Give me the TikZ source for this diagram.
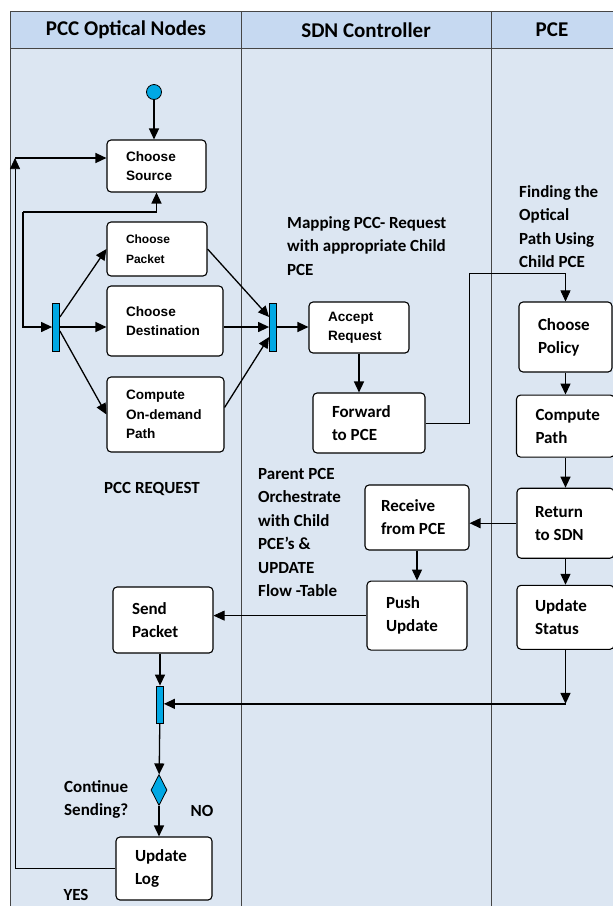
\documentclass[tikz,border=0pt]{standalone}
\usepackage{fontspec}
\setmainfont{Carlito}
\newfontfamily\arialfont{Liberation Sans}
\usetikzlibrary{arrows.meta, shapes.geometric, positioning}

\definecolor{headblue}{RGB}{198,217,241}
\definecolor{laneblue}{RGB}{220,230,242}
\definecolor{barblue}{RGB}{0,168,228}
\definecolor{laneline}{RGB}{70,70,70}

\tikzset{
  >={Triangle[length=11pt,width=10pt]},
  actbox/.style={draw, rounded corners=4pt, fill=white, line width=1.1pt, align=flush left, inner xsep=19pt, inner ysep=0pt},
  arialtxt/.style={font=\arialfont\bfseries\fontsize{13.6}{19.5}\selectfont},
  arialsmall/.style={font=\arialfont\bfseries\fontsize{12}{19.5}\selectfont},
  calitxt/.style={font=\bfseries\fontsize{17}{23}\selectfont},
  note/.style={align=flush left, anchor=north west, inner sep=0pt, font=\bfseries\fontsize{17}{23.5}\selectfont},
  lanehead/.style={font=\bfseries\fontsize{21}{24}\selectfont},
  syncbar/.style={draw, fill=barblue, line width=0.8pt, minimum width=7pt, inner sep=0pt},
  flow/.style={->, line width=1.3pt},
  thinflow/.style={->, line width=0.7pt}
}

\begin{document}
\begin{tikzpicture}[x=1pt, y=-1pt]

        \useasboundingbox (0,0) rectangle (613,906);

        % Swim lanes
        \fill[headblue] (10,11) rectangle (613,48);
        \fill[laneblue] (10,48) rectangle (613,906);
        \draw[laneline] (10,906) -- (10,11) -- (613,11);
        \draw[laneline] (10,48) -- (613,48);
        \draw[laneline] (241,11) -- (241,906);
        \draw[laneline] (491,11) -- (491,906);
        \node[lanehead] (hpcc) at (126,30) {PCC Optical Nodes};
        \node[lanehead] (hsdn) at (366,30) {SDN Controller};
        \node[lanehead] (hpce) at (552,30) {PCE};

        % PCC request
        \node[circle, draw, fill=barblue, line width=0.8pt, minimum size=15pt, inner sep=0pt] (start) at (154,92) {};
        \node[actbox, arialtxt, text width=61pt, minimum height=52pt] (source) at (156.5,166) {Choose\\Source};
        \node[actbox, arialsmall, text width=62pt, minimum height=54pt] (packet) at (157,249) {Choose\\Packet};
        \node[actbox, arialtxt, text width=78pt, minimum height=70pt] (dest) at (165,321) {Choose\\Destination};
        \node[actbox, arialtxt, text width=79pt, minimum height=75pt] (ondemand) at (165.5,414.5) {Compute\\On-demand\\Path};
        \node[syncbar, minimum height=48pt] (fork) at (56,327) {};
        \node[syncbar, minimum height=48pt] (join) at (273,327) {};
        \node[calitxt] (pccreq) at (152,489) {PCC REQUEST};

        % SDN controller
        \node[note] (mapnote) at (287,216) {Mapping PCC- Request\\with appropriate Child\\PCE};
        \node[actbox, arialtxt, text width=62pt, minimum height=51pt] (accept) at (359,327.5) {Accept\\Request};
        \node[actbox, calitxt, text width=74pt, minimum height=60pt] (forward) at (369,423) {Forward\\to PCE};

        % PCE
        \node[note] (findnote) at (519,185) {Finding the\\Optical\\Path Using\\Child PCE};
        \node[actbox, calitxt, text width=55pt, minimum height=70pt] (policy) at (565.5,337) {Choose\\Policy};
        \node[actbox, calitxt, text width=60pt, minimum height=62pt, below=22pt of policy] (computepath) {Compute\\Path};
        \node[actbox, calitxt, text width=61pt, inner xsep=18pt, minimum height=70pt, below=30pt of computepath] (ret) {Return\\to SDN};
        \node[actbox, calitxt, text width=61pt, inner xsep=18pt, minimum height=64pt, below=26pt of ret] (status) {Update\\Status};

        % Update back through the controller
        \node[actbox, calitxt, text width=72pt, inner xsep=16pt, minimum height=65pt] (receive) at (417,517.5) {Receive\\from PCE};
        \node[actbox, calitxt, text width=62pt, minimum height=69pt, below=30pt of receive] (push) {Push\\Update};
        \node[note] (parentnote) at (258,468) {Parent PCE\\Orchestrate\\with Child\\PCE’s \&\\UPDATE\\Flow -Table};

        % Sending
        \node[actbox, calitxt, text width=62pt, minimum height=66pt] (sendpkt) at (163,620) {Send\\Packet};
        \node[syncbar, minimum height=37pt] (join2) at (160,704.5) {};
        \node[diamond, draw, fill=barblue, line width=0.8pt, aspect=0.5, minimum width=16pt, minimum height=31pt, inner sep=0pt] (decide) at (159,790) {};
        \node[note] (contnote) at (64,780) {Continue\\Sending?};
        \node[calitxt] (nolabel) at (202,811) {NO};
        \node[actbox, calitxt, text width=58pt, minimum height=63pt] (updlog) at (164,868.5) {Update\\Log};
        \node[calitxt] (yeslabel) at (76,895) {YES};

        % Connectors
        \coordinate (loopA) at (15,158);
        \coordinate (loopB) at (23,212);
        \coordinate (fwdturn) at (469,273);
        \coordinate (statturn) at ([yshift=-54pt]status.south);

        \draw[flow] (start) -- (start |- source.north);
        \draw[thinflow] (updlog.west) -| (loopA);
        \draw[flow] (loopA) -- (source.west |- loopA);
        \draw[flow] (loopB) -| (source.south);
        \draw[flow] (loopB) |- (fork.west);

        \draw[flow] ([yshift=10pt]fork.east) -- (packet.west);
        \draw[flow] (fork.east) -- (fork.east -| dest.west);
        \draw[flow] ([yshift=-4pt]fork.east) -- (ondemand.west);
        \draw[flow] (packet.east) -- ([yshift=10pt]join.west);
        \draw[flow] (dest.east |- join.west) -- (join.west);
        \draw[flow] ([yshift=7pt]ondemand.east) -- ([yshift=-10pt]join.west);
        \draw[flow] (join.east) -- (join.east -| accept.west);

        \draw[flow] (accept.south) -- (accept.south |- forward.north);
        \draw[thinflow] (forward.east) -| (fwdturn) -| (policy.north);
        \draw[flow] (policy) -- (computepath);
        \draw[flow] (computepath) -- (ret);
        \draw[flow] (ret) -- (status);
        \draw[flow] (ret.west) -- (ret.west -| receive.east);
        \draw[flow] (receive) -- (push);
        \draw[thinflow] (push.west) -- (push.west -| sendpkt.east);

        \draw[flow] (sendpkt.south -| join2.north) -- (join2.north);
        \draw[flow] (status.south) -- (statturn);
        \draw[flow] (statturn) -- (statturn -| join2.east);
        \draw[flow] (join2) -- (decide);
        \draw[flow] (decide.south) -- (decide.south |- updlog.north);

\end{tikzpicture}
\end{document}
